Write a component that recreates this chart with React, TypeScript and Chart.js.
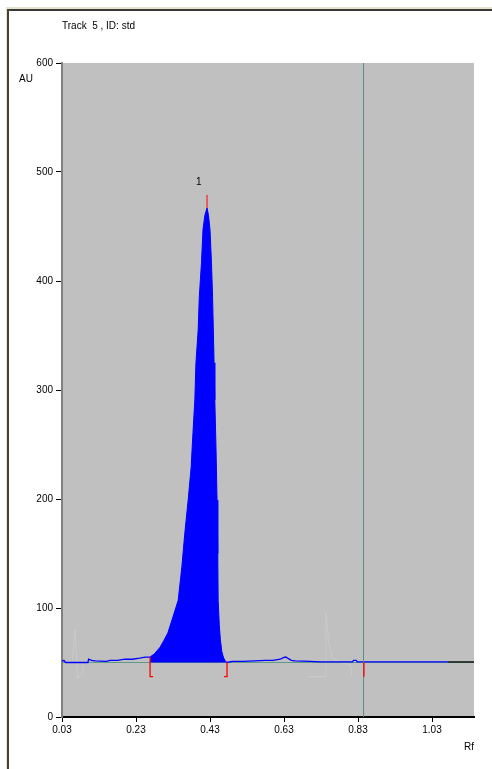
import React, { useEffect, useRef } from "react";
import { Chart, registerables } from "chart.js";

Chart.register(...registerables);

// ---- data ----
const xTicks = [0.03, 0.23, 0.43, 0.63, 0.83, 1.03];
const yTicks = [0, 100, 200, 300, 400, 500, 600];
const xMin = 0.03;
const xMax = 1.1435;
const baselineLevel = 50;

const peakRf = [0.268, 0.28, 0.295, 0.305, 0.316, 0.33, 0.344, 0.354, 0.362, 0.371, 0.379, 0.384, 0.389, 0.392, 0.398, 0.401, 0.407, 0.411, 0.416, 0.422, 0.426, 0.43, 0.434, 0.437, 0.439, 0.441, 0.443, 0.446, 0.449, 0.451, 0.452, 0.455, 0.458, 0.462, 0.466, 0.47, 0.476];
const peakAU = [55, 58, 64, 70, 77, 92, 107, 138, 169, 199, 229, 261, 291, 325, 355, 385, 417, 447, 460, 467, 460, 447, 417, 385, 355, 325, 291, 250, 199, 150, 107, 85, 71, 60, 55, 52, 50];

const noiseRfA = [0.03, 0.035, 0.04, 0.07, 0.1, 0.102, 0.11, 0.12, 0.15, 0.16, 0.18, 0.2, 0.22, 0.24, 0.255, 0.268];
const noiseAUA = [51, 52, 50, 50, 50, 53, 52, 51.5, 51, 52, 52, 53, 53, 54, 55, 55];
const noiseRfB = [0.476, 0.49, 0.52, 0.55, 0.58, 0.6, 0.62, 0.628, 0.635, 0.642, 0.65, 0.66, 0.7, 0.73, 0.76, 0.8, 0.815, 0.818, 0.825, 0.828, 0.84, 0.9, 1.0, 1.073];
const noiseAUB = [50, 51, 51, 51.5, 52, 52, 53, 54.5, 55, 53.5, 52, 51.5, 51, 50.5, 50.5, 50.5, 50.5, 52, 52, 50.5, 50.5, 50.5, 50.5, 50.5];
const tailRf = [1.073, 1.1435];
const tailAU = [50.5, 50.5];

const cursorRf = 0.845;
const peakStartRf = 0.268;
const peakEndRf = 0.476;
const peakMaxRf = 0.422;
const peakMaxAU = 467;
const peakLabel = "1";

const ghost1Rf = [0.058, 0.065, 0.07, 0.072, 0.085, 0.088];
const ghost1AU = [52, 80, 50, 35, 40, 50];
const ghost2Rf = [0.692, 0.743, 0.743, 0.745, 0.75, 0.76, 0.78, 0.81, 0.814];
const ghost2AU = [37, 37, 95, 95, 70, 55, 50, 48, 37];

const titleText = "Track  5 , ID: std";
const yUnit = "AU";
const xUnit = "Rf";

const pts = (xs: number[], ys: number[]) => xs.map((x, i) => ({ x, y: ys[i] }));

const FONT = "'Liberation Sans Narrow', 'Liberation Sans', Arial, sans-serif";

export default function App() {
  const ref = useRef<HTMLCanvasElement | null>(null);

  useEffect(() => {
    if (!ref.current) return;

    const bgPlugin = {
      id: "plotBg",
      beforeDraw(chart: any) {
        const { ctx, chartArea: a } = chart;
        ctx.save();
        ctx.fillStyle = "#C0C0C0";
        ctx.fillRect(a.left, a.top, a.right - a.left, a.bottom - a.top);
        ctx.restore();
      },
    };

    const textPlugin = {
      id: "texts",
      afterDraw(chart: any) {
        const { ctx, chartArea: a, scales } = chart;
        ctx.save();
        ctx.fillStyle = "#000";
        ctx.font = `10px ${FONT}`;
        ctx.textBaseline = "middle";
        ctx.textAlign = "left";
        ctx.fillText(titleText, a.left, 26);
        ctx.fillText(yUnit, 19, 79);
        ctx.textAlign = "right";
        ctx.fillText(xUnit, a.right, 747);
        ctx.textAlign = "center";
        ctx.fillText(peakLabel, scales.x.getPixelForValue(0.4), scales.y.getPixelForValue(491));
        ctx.restore();
      },
    };

    const chart = new Chart(ref.current, {
      type: "line",
      data: {
        datasets: [
          // red peak markers
          { data: pts([peakMaxRf, peakMaxRf], [peakMaxAU, 479]), borderColor: "#FF0000", borderWidth: 1 },
          { data: pts([peakStartRf, peakStartRf, 0.276], [55, 37, 37]), borderColor: "#FF0000", borderWidth: 1.3 },
          { data: pts([peakEndRf, peakEndRf, 0.468], [50, 37, 37]), borderColor: "#FF0000", borderWidth: 1.3 },
          { data: pts([cursorRf + 0.001, cursorRf + 0.001], [50, 37]), borderColor: "#FF0000", borderWidth: 1.3 },
          // cursor line
          { data: pts([cursorRf, cursorRf], [0, 600]), borderColor: "#5E8C8A", borderWidth: 1 },
          // noise
          { data: pts(noiseRfA, noiseAUA), borderColor: "#0000FF", borderWidth: 1.3 },
          { data: pts(noiseRfB, noiseAUB), borderColor: "#0000FF", borderWidth: 1.3 },
          // peak
          {
            data: pts(peakRf, peakAU),
            borderColor: "#0000FF",
            backgroundColor: "#0000FF",
            borderWidth: 1,
            fill: { value: baselineLevel },
          },
          // black tail
          { data: pts(tailRf, tailAU), borderColor: "#000000", borderWidth: 1.3 },
          // baseline
          { data: pts([xMin, xMax], [baselineLevel, baselineLevel]), borderColor: "#5F9A86", borderWidth: 1.2 },
          // faint ghosts
          { data: pts(ghost1Rf, ghost1AU), borderColor: "#CACACA", borderWidth: 1 },
          { data: pts(ghost2Rf, ghost2AU), borderColor: "#CACACA", borderWidth: 1 },
        ],
      },
      options: {
        responsive: false,
        animation: false,
        events: [],
        layout: { padding: { top: 63, right: 18, left: 0, bottom: 0 } },
        elements: { point: { radius: 0 }, line: { tension: 0 } },
        plugins: { legend: { display: false }, tooltip: { enabled: false }, title: { display: false } },
        scales: {
          x: {
            type: "linear",
            min: xMin,
            max: xMax,
            afterBuildTicks: (s: any) => {
              s.ticks = xTicks.map((v) => ({ value: v }));
            },
            afterFit: (s: any) => {
              s.height = 52;
            },
            ticks: {
              autoSkip: false,
              maxRotation: 0,
              color: "#000",
              padding: 2,
              font: { size: 10, family: FONT },
              callback: (v: any) => Number(v).toFixed(2),
            },
            grid: { drawOnChartArea: false, drawTicks: true, tickLength: 5, color: "#000", lineWidth: 1 },
            border: { display: true, color: "#000", width: 2 },
          },
          y: {
            type: "linear",
            min: 0,
            max: 600,
            afterBuildTicks: (s: any) => {
              s.ticks = yTicks.map((v) => ({ value: v }));
            },
            afterFit: (s: any) => {
              s.width = 62;
            },
            ticks: {
              color: "#000",
              padding: 3,
              font: { size: 10, family: FONT },
            },
            grid: { drawOnChartArea: false, drawTicks: true, tickLength: 6, color: "#000", lineWidth: 1 },
            border: { display: true, color: "#808080", width: 2 },
          },
        },
      },
      plugins: [bgPlugin, textPlugin],
    } as any);

    return () => chart.destroy();
  }, []);

  return (
    <div style={{ position: "fixed", left: 0, top: 0, width: 492, height: 769, background: "#fff", overflow: "hidden" }}>
      <canvas ref={ref} width={492} height={769} style={{ position: "absolute", left: 0, top: 0, width: 492, height: 769 }} />
      <div style={{ position: "absolute", left: 6, top: 7, right: 0, height: 2, background: "#E6E2CC" }} />
      <div style={{ position: "absolute", left: 7, top: 9, right: 0, height: 2, background: "#3A3A3A" }} />
      <div style={{ position: "absolute", left: 6, top: 7, width: 1, bottom: 0, background: "#E6E2CC" }} />
      <div style={{ position: "absolute", left: 7, top: 9, width: 1.5, bottom: 0, background: "#4A4030" }} />
    </div>
  );
}
